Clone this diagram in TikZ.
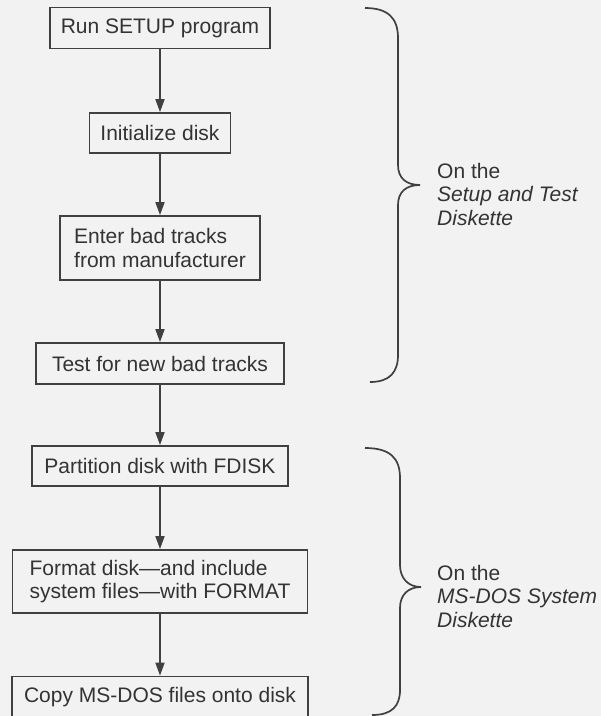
\documentclass[tikz,border=0pt]{standalone}
\usepackage{fontspec}
\setmainfont{Liberation Sans}
\usetikzlibrary{arrows.meta}

\begin{document}
\begin{tikzpicture}[x=1pt, y=-1pt, font=\fontsize{21}{23.5}\selectfont, text=black!80,
  stepbox/.style={draw=black!75, line width=1.7pt, align=left, inner sep=0pt, minimum height=41pt},
  arr/.style={-{Triangle[length=13pt, width=9pt]}, draw=black!75, line width=1.7pt},
  brc/.style={draw=black!75, line width=1.7pt},
  lbl/.style={anchor=west, align=left, inner sep=0pt}]
\useasboundingbox[fill=black!5] (0,0) rectangle (601,716);
\def\cx{160}
% steps
\node[stepbox, minimum width=220pt] (setup) at (\cx,28) {Run SETUP program};
\node[stepbox, minimum width=141pt, minimum height=40pt] (init) at (\cx,133) {Initialize disk};
\node[stepbox, minimum width=200pt, minimum height=64pt] (enter) at (\cx,248) {Enter bad tracks\\from manufacturer};
\node[stepbox, minimum width=248pt] (test) at (\cx,363.5) {Test for new bad tracks};
\node[stepbox, minimum width=256pt, minimum height=40pt] (part) at (\cx,466) {Partition disk with FDISK};
\node[stepbox, minimum width=295pt, minimum height=63pt] (format) at (\cx,581.5) {Format disk---and include\\system files---with FORMAT};
\node[stepbox, minimum width=296pt] (copy) at (\cx,697) {Copy MS-DOS files onto disk};
\foreach \u/\v in {setup/init, init/enter, enter/test, test/part, part/format, format/copy}
  \draw[arr] (\u) -- (\v);
% braces
\coordinate (b1top) at (365,8);
\coordinate (tip1) at (420,185);
\coordinate (b1bot) at (370,382);
\coordinate (b2top) at (365,448);
\coordinate (tip2) at (421,587);
\coordinate (b2bot) at (372,715);
\draw[brc] (b1top) .. controls (388,8) and (398,18) .. (398,38) -- (398,165)
  .. controls (398,178) and (406,185) .. (tip1) .. controls (406,185) and (398,192) .. (398,205)
  -- (398,355) .. controls (398,372) and (390,382) .. (b1bot);
\draw[brc] (b2top) .. controls (390,448) and (400,458) .. (400,478) -- (400,565)
  .. controls (400,578) and (408,587) .. (tip2) .. controls (408,587) and (400,595) .. (400,608)
  -- (400,690) .. controls (400,706) and (392,715) .. (b2bot);
\node[lbl] (stlbl) at (437,194) {On the\\\textit{Setup and Test}\\\textit{Diskette}};
\node[lbl] (dslbl) at (437,596) {On the\\\textit{MS-DOS System}\\\textit{Diskette}};
\end{tikzpicture}
\end{document}
